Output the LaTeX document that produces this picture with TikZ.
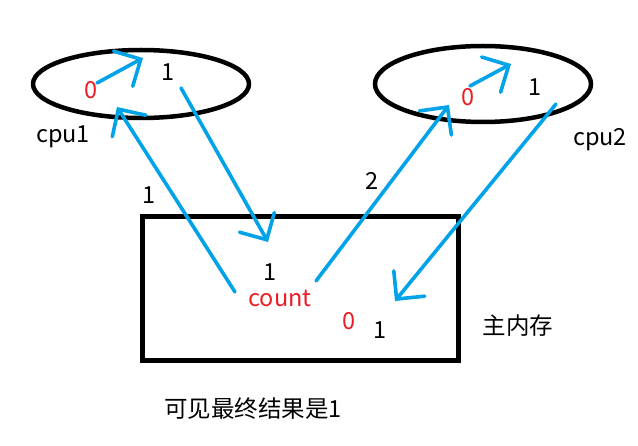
\documentclass[tikz,border=0pt]{standalone}
\usepackage{fontspec}
\setmainfont{Noto Sans CJK SC}
\usetikzlibrary{arrows.meta,shapes.geometric}
\definecolor{pblue}{RGB}{0,162,232}
\definecolor{pred}{RGB}{237,28,36}
\begin{document}
\begin{tikzpicture}[x=1pt,y=-1pt,
  txt/.style={inner sep=0pt,font=\fontsize{23.5}{28}\selectfont},
  redtxt/.style={txt,text=pred},
  cpu/.style={draw=black,line width=4.5pt,ellipse,inner sep=0pt},
  flow/.style={draw=pblue,line width=3.6pt,line cap=round,line join=round,
    -{Straight Barb[length=20pt,width=40pt,line cap=round]}}]
\useasboundingbox[fill=white] (0,0) rectangle (638,446);
% cpus
\node[cpu,minimum width=216pt,minimum height=68pt] (e1) at (141,84) {};
\node[cpu,minimum width=216pt,minimum height=76pt] (e2) at (483,84) {};
% main memory
\node[draw=black,line width=5pt,minimum width=316pt,minimum height=144pt,inner sep=0pt] (mem) at (300,289) {};
% texts
\node[redtxt] (c1zero) at (91,90) {0};
\node[txt] (c1one) at (168,72) {1};
\node[txt] (cpu1) at (63,137) {cpu1};
\node[redtxt] (c2zero) at (468,97) {0};
\node[txt] (c2one) at (535,87) {1};
\node[txt] (cpu2) at (600,140) {cpu2};
\node[txt] (lbl1) at (149,195) {1};
\node[txt] (lbl2) at (372,181) {2};
\node[txt] (memone) at (270,272) {1};
\node[redtxt] (count) at (280,298) {count};
\node[redtxt] (memzero) at (349,321) {0};
\node[txt] (memone2) at (380,330) {1};
\node[txt] (mainmem) at (518,326) {主内存};
\node[txt] (result) at (253,409) {可见最终结果是1};
% arrow end points
\coordinate (a1s) at (97,83);  \coordinate (a1t) at (143,58);
\coordinate (a2s) at (235,292); \coordinate (a2t) at (117,107);
\coordinate (a3s) at (181,88); \coordinate (a3t) at (268,242);
\coordinate (a4s) at (316,281); \coordinate (a4t) at (449,105);
\coordinate (a5s) at (470,86); \coordinate (a5t) at (511,64);
\coordinate (a6s) at (556,104); \coordinate (a6t) at (395,301);
\draw[flow] (a1s) -- (a1t);
\draw[flow] (a2s) -- (a2t);
\draw[flow] (a3s) -- (a3t);
\draw[flow] (a4s) -- (a4t);
\draw[flow] (a5s) -- (a5t);
\draw[flow] (a6s) -- (a6t);
\end{tikzpicture}
\end{document}
